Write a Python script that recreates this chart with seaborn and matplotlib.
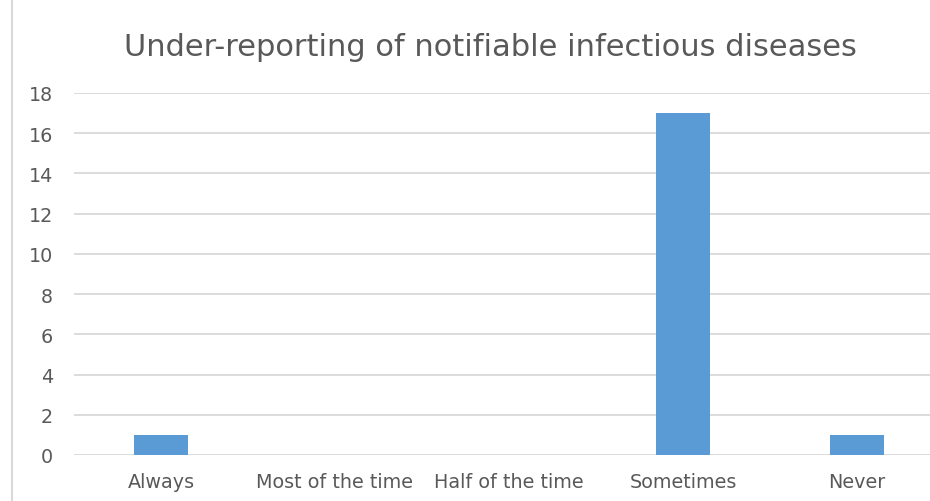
import matplotlib
matplotlib.use("Agg")
import matplotlib.pyplot as plt
from matplotlib.lines import Line2D
import seaborn as sns
import pandas as pd

categories = ["Always", "Most of the time", "Half of the time", "Sometimes", "Never"]
counts = [1, 0, 0, 17, 1]
y_ticks = [0, 2, 4, 6, 8, 10, 12, 14, 16, 18]
title = "Under-reporting of notifiable infectious diseases"

df = pd.DataFrame({"response": categories, "count": counts})

sns.set_style("white")
plt.rcParams["font.family"] = ["DejaVu Sans"]

W, H = 930, 502
fig = plt.figure(figsize=(W / 100, H / 100), dpi=100)
ax = fig.add_axes([74 / W, 46 / H, 870 / W, 362 / H])

sns.barplot(data=df, x="response", y="count", color="#5B9BD5", width=0.31,
            saturation=1, linewidth=0, ax=ax, zorder=3)

ax.set_xlim(-0.5, 4.5)
ax.set_ylim(0, 18)
ax.set_yticks(y_ticks)
ax.set_yticklabels([str(t) for t in y_ticks])
ax.yaxis.grid(True, color="#D9D9D9", linewidth=1.3, zorder=0)
ax.set_axisbelow(True)
for s in ax.spines.values():
    s.set_visible(False)
ax.tick_params(axis="both", length=0, labelsize=13.8, labelcolor="#595959")
ax.tick_params(axis="y", pad=15)
ax.tick_params(axis="x", pad=12)
ax.set_xlabel("")
ax.set_ylabel("")

fig.text(490 / W, 1 - 56 / H, title, ha="center", va="baseline",
         fontsize=22, color="#595959")

fig.add_artist(Line2D([11.5 / W, 11.5 / W], [0, 1], color="#D9D9D9", linewidth=1.5))

fig.savefig("out.png", dpi=100, facecolor="white")
